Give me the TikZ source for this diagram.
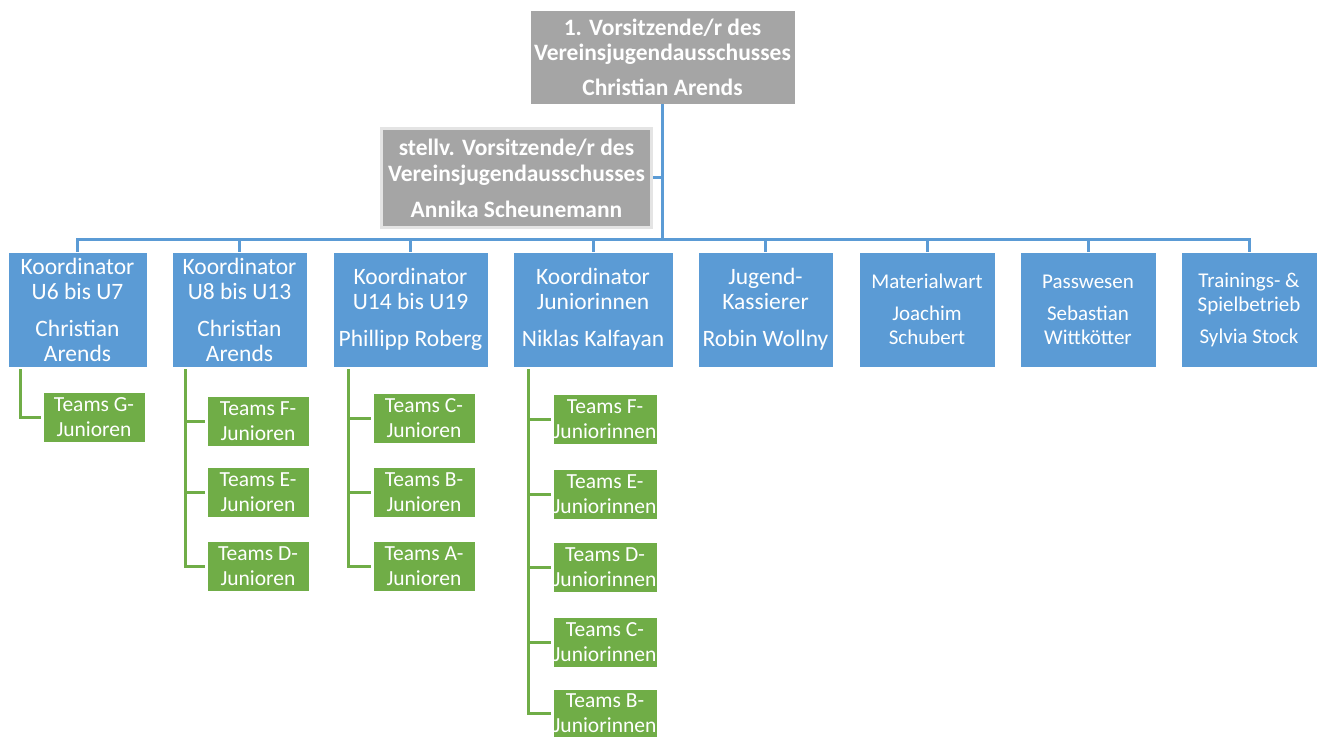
\documentclass[tikz,border=0pt]{standalone}
\usepackage{fontspec}
\setmainfont{Carlito}
\definecolor{blueC}{HTML}{5B9BD5}
\definecolor{grayC}{HTML}{A5A5A5}
\definecolor{greenC}{HTML}{70AD47}
\definecolor{grayEdge}{HTML}{E4E4E4}
\tikzset{
  box/.style={rectangle, inner sep=0pt, align=center, text=white},
  graybox/.style={box, fill=grayC, draw=white, line width=0.8pt, font=\bfseries\fontsize{23.5}{25}\selectfont},
  grayboxb/.style={box, fill=grayC, draw=grayEdge, line width=3pt, font=\bfseries\fontsize{23.5}{26}\selectfont},
  bluebox/.style={box, fill=blueC, draw=white, line width=0.6pt, minimum height=115pt, font=\fontsize{23.5}{25}\selectfont},
  blueboxs/.style={bluebox, font=\fontsize{21}{24}\selectfont},
  greenbox/.style={box, fill=greenC, draw=white, line width=0.6pt, minimum height=50pt, minimum width=102pt, font=\fontsize{21.5}{25}\selectfont},
  blueline/.style={draw=blueC, line width=3pt},
  greenline/.style={draw=greenC, line width=3pt},
}
\begin{document}
\begin{tikzpicture}[x=1pt,y=-1pt]
\useasboundingbox[fill=white] (0,0) rectangle (1323,738);
% gray boxes
\node[graybox, minimum width=265pt, minimum height=94pt] (top) at (662.5,57) {1. Vorsitzende/r des\\Vereinsjugendausschusses\\[10pt]Christian Arends};
\node[grayboxb, minimum width=270pt, minimum height=99pt] (dep) at (516.5,178) {stellv. Vorsitzende/r des\\Vereinsjugendausschusses\\[10pt]Annika Scheunemann};
% blue boxes
\node[bluebox, minimum width=139pt] (b1) at (77.5,309.5) {Koordinator\\U6 bis U7\\[12pt]Christian\\Arends};
\node[bluebox, minimum width=135pt] (b2) at (239.5,309.5) {Koordinator\\U8 bis U13\\[12pt]Christian\\Arends};
\node[bluebox, minimum width=155pt] (b3) at (410.5,309.5) {Koordinator\\U14 bis U19\\[12pt]Phillipp Roberg};
\node[bluebox, minimum width=160pt] (b4) at (593,309.5) {Koordinator\\Juniorinnen\\[12pt]Niklas Kalfayan};
\node[bluebox, minimum width=135pt] (b5) at (765.5,309.5) {Jugend-\\Kassierer\\[12pt]Robin Wollny};
\node[blueboxs, minimum width=136pt] (b6) at (927,309.5) {Materialwart\\[8pt]Joachim\\Schubert};
\node[blueboxs, minimum width=136pt] (b7) at (1088,309.5) {Passwesen\\[8pt]Sebastian\\Wittkötter};
\node[blueboxs, minimum width=136pt] (b8) at (1249,309.5) {Trainings- \&\\Spielbetrieb\\[8pt]Sylvia Stock};
% green boxes
\node[greenbox] (g1a) at (94,417.5) {Teams G-\\Junioren};
\node[greenbox] (g2a) at (258,421) {Teams F-\\Junioren};
\node[greenbox] (g2b) at (258,492) {Teams E-\\Junioren};
\node[greenbox] (g2c) at (258,566) {Teams D-\\Junioren};
\node[greenbox] (g3a) at (424,418) {Teams C-\\Junioren};
\node[greenbox] (g3b) at (424,492) {Teams B-\\Junioren};
\node[greenbox] (g3c) at (424,566) {Teams A-\\Junioren};
\node[greenbox, minimum width=104pt] (g4a) at (605,419.5) {Teams F-\\Juniorinnen};
\node[greenbox, minimum width=104pt] (g4b) at (605,494.5) {Teams E-\\Juniorinnen};
\node[greenbox, minimum width=104pt] (g4c) at (605,567) {Teams D-\\Juniorinnen};
\node[greenbox, minimum width=104pt] (g4d) at (605,642) {Teams C-\\Juniorinnen};
\node[greenbox, minimum width=104pt, minimum height=48pt] (g4e) at (605,713) {Teams B-\\Juniorinnen};
% blue connectors
\coordinate (bus) at (662.5,240);
\draw[blueline] (top.south) -- (bus);
\draw[blueline] (dep.east) -- (dep.east -| bus);
\foreach \b in {b1,b2,b3,b4,b5,b6,b7,b8}{
  \draw[blueline] (bus) -| (\b.north);
}
% green connectors
\coordinate (s1) at (20,369);
\coordinate (s2) at (185,369);
\coordinate (s3) at (348,369);
\coordinate (s4) at (528,369);
\draw[greenline] (s1) |- ([xshift=-2pt]g1a.west);
\foreach \g in {g2a,g2b,g2c}{\draw[greenline] (s2) |- ([xshift=-2pt]\g.west);}
\foreach \g in {g3a,g3b,g3c}{\draw[greenline] (s3) |- ([xshift=-2pt]\g.west);}
\foreach \g in {g4a,g4b,g4c,g4d,g4e}{\draw[greenline] (s4) |- ([xshift=-2pt]\g.west);}
\end{tikzpicture}
\end{document}
